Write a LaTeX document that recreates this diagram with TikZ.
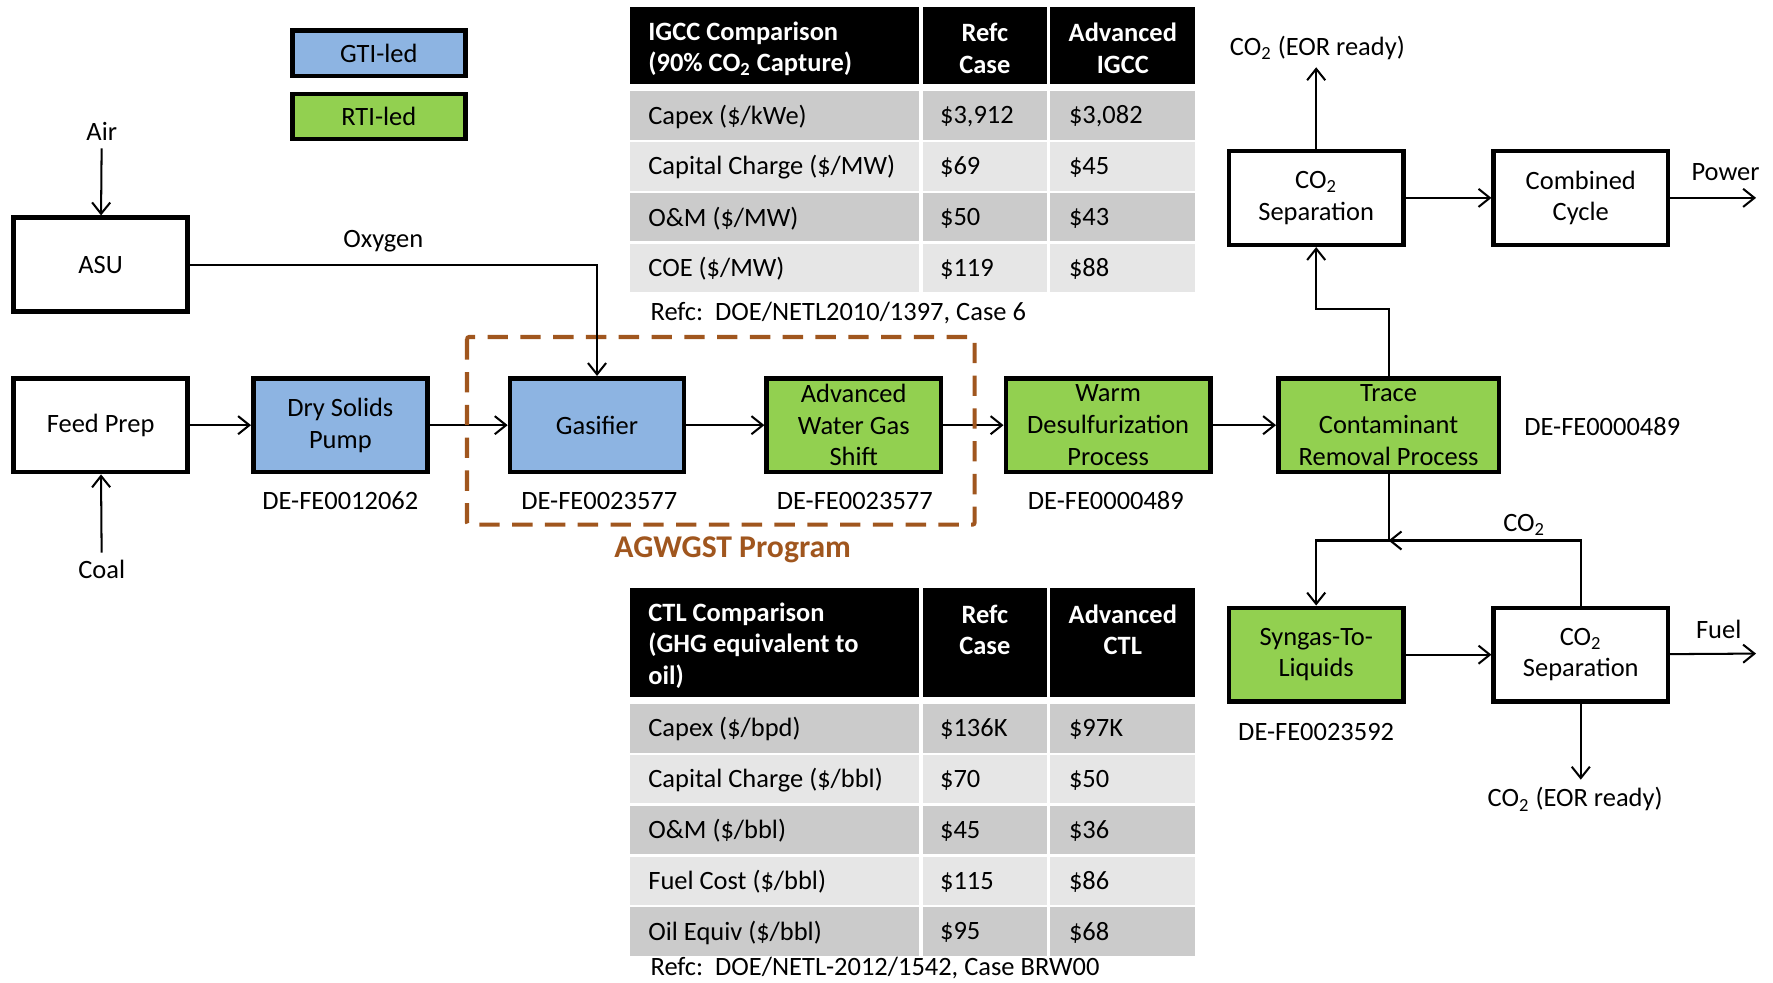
\documentclass[tikz,border=0pt]{standalone}
\usepackage{fontspec}
\setmainfont{Carlito}
\usetikzlibrary{arrows.meta}

\definecolor{gtiblue}{HTML}{8DB4E2}
\definecolor{rtigreen}{HTML}{92D050}
\definecolor{rowdark}{HTML}{CBCBCB}
\definecolor{rowlight}{HTML}{E6E6E6}
\definecolor{agwbrown}{HTML}{A0561E}

\tikzset{
   >={Straight Barb[length=5pt, width=8pt]},
   blk/.style={draw, line width=2pt, minimum height=41.5pt, inner ysep=0pt, inner xsep=1pt, align=center},
   keybox/.style={draw, line width=2pt, minimum height=20pt, minimum width=76.5pt},
   flow/.style={draw, line width=0.9pt, ->},
   cell/.style={anchor=west, inner sep=0pt},
   hdr/.style={text=white, font=\fontsize{11.7}{14}\selectfont\bfseries, align=left, inner sep=0pt},
   agw/.style={draw=agwbrown, line width=1.8pt, dash pattern=on 9pt off 5.5pt, rounded corners=1pt}
}

\begin{document}
\begin{tikzpicture}[x=0.5pt, y=-0.5pt, font=\fontsize{11.7}{14}\selectfont]
   \useasboundingbox (0,0) rectangle (1568,869);
   % legend
   \node[keybox, fill=gtiblue] (gtikey) at (335,47) {GTI-led};
   \node[keybox, fill=rtigreen] (rtikey) at (335,103) {RTI-led};
   % process blocks
   \begin{scope}
      \def \Boxes {
         asu/89/234/white/77/ASU,
         feed/89/376/white/77/Feed Prep,
         dsp/301/376/gtiblue/77/Dry Solids\\Pump,
         gas/528/376/gtiblue/77/Gasifier,
         awgs/755/376/rtigreen/77/Advanced\\Water Gas\\Shift,
         warm/980/376/rtigreen/90.5/Warm\\Desulfurization\\Process,
         trace/1228/376/rtigreen/97.5/Trace\\Contaminant\\Removal Process,
         sept/1164/175/white/77/CO\textsubscript{2}\\Separation,
         cc/1398/175/white/77/Combined\\Cycle,
         stl/1164/579/rtigreen/77/Syngas-To-\\Liquids,
         sepb/1398/579/white/77/CO\textsubscript{2}\\Separation}
      \foreach \u / \x / \y / \c / \w / \n in \Boxes {
         \node[blk, fill=\c, minimum width=\w pt] (\u) at (\x, \y){\n};
      }
      \def \Edges {
         feed/dsp,
         dsp/gas,
         gas/awgs,
         awgs/warm,
         warm/trace,
         sept/cc,
         stl/sepb}
      \foreach \u / \v in \Edges {
         \path[flow] (\u) -- (\v);
      }
   \end{scope}
   % grant numbers
   \node (dsptag) at (301,443) {DE-FE0012062};
   \node (gastag) at (530,443) {DE-FE0023577};
   \node (awgstag) at (756,443) {DE-FE0023577};
   \node (warmtag) at (978,443) {DE-FE0000489};
   \node (tracetag) at (1417,377) {DE-FE0000489};
   \node (stltag) at (1164,647) {DE-FE0023592};
   % AGWGST program frame
   \path[agw] (413,298) rectangle (862,464);
   \node[text=agwbrown, font=\fontsize{14}{16}\selectfont\bfseries] (agwlabel) at (648,486) {AGWGST Program};
   % feeds and products
   \node (air) at (90,116) {Air};
   \node (coal) at (90,504) {Coal};
   \node (oxy) at (339,213) {Oxygen};
   \node (eortop) at (1165,42) {CO\textsubscript{2} (EOR ready)};
   \node (eorbot) at (1393,707) {CO\textsubscript{2} (EOR ready)};
   \node (power) at (1526,152) {Power};
   \node (fuel) at (1520,557) {Fuel};
   \node (co2back) at (1348,464) {CO\textsubscript{2}};
   \coordinate (powerout) at (1553,175);
   \coordinate (fuelout) at (1553,578);
   \coordinate (rise) at (1228,273);
   \coordinate (split) at (1228,478);
   \path[flow] (air) -- (asu);
   \path[flow] (coal) -- (feed);
   \path[flow] (asu.east) -| (gas.north);
   \path[flow] (sept.north) -- (sept.north |- eortop.south);
   \path[flow] (cc) -- (powerout);
   \path[flow] (trace.north) -- (rise) -| (sept.south);
   \path[flow] (trace.south) -- (split) -| (stl.north);
   \path[flow] (sepb.north) |- (split);
   \path[flow] (sepb) -- (fuelout);
   \path[flow] (sepb.south) -- (sepb.south |- eorbot.north);
   % IGCC table
   \fill[black] (557,6) rectangle (813,74);
   \fill[black] (816,6) rectangle (926,74);
   \fill[black] (929,6) rectangle (1057,74);
   \node[hdr, anchor=west] (igcchead) at (573,43) {IGCC Comparison\\(90\% CO\textsubscript{2} Capture)};
   \node[hdr, align=center] (igccrefc) at (871,43) {Refc\\Case};
   \node[hdr, align=center] (igccadv) at (993,43) {Advanced\\IGCC};
   \def \IgccRows {
      102/rowdark/{Capex (\$/kWe)}/{\$3,912}/{\$3,082},
      147/rowlight/{Capital Charge (\$/MW)}/{\$69}/{\$45},
      192/rowdark/{O\&M (\$/MW)}/{\$50}/{\$43},
      237/rowlight/{COE (\$/MW)}/{\$119}/{\$88}}
   \foreach \yc / \fc / \ta / \tb / \tc in \IgccRows {
      \fill[\fc] (557,\yc-21.5) rectangle (813,\yc+21.5);
      \fill[\fc] (816,\yc-21.5) rectangle (926,\yc+21.5);
      \fill[\fc] (929,\yc-21.5) rectangle (1057,\yc+21.5);
      \node[cell] (ia\yc) at (573,\yc+1) {\ta};
      \node[cell] (ib\yc) at (831,\yc+1) {\tb};
      \node[cell] (ic\yc) at (945,\yc+1) {\tc};
   }
   \node[cell] (igccnote) at (575,277) {Refc:\ \ DOE/NETL2010/1397, Case 6};
   % CTL table
   \fill[black] (557,520) rectangle (813,616);
   \fill[black] (816,520) rectangle (926,616);
   \fill[black] (929,520) rectangle (1057,616);
   \node[hdr, anchor=west] (ctlhead) at (573,571) {CTL Comparison\\(GHG equivalent to\\oil)};
   \node[hdr, align=center] (ctlrefc) at (871,557) {Refc\\Case};
   \node[hdr, align=center] (ctladv) at (993,557) {Advanced\\CTL};
   \def \CtlRows {
      644/rowdark/{Capex (\$/bpd)}/{\$136K}/{\$97K},
      689/rowlight/{Capital Charge (\$/bbl)}/{\$70}/{\$50},
      734/rowdark/{O\&M (\$/bbl)}/{\$45}/{\$36},
      779/rowlight/{Fuel Cost (\$/bbl)}/{\$115}/{\$86},
      824/rowdark/{Oil Equiv (\$/bbl)}/{\$95}/{\$68}}
   \foreach \yc / \fc / \ta / \tb / \tc in \CtlRows {
      \fill[\fc] (557,\yc-21.5) rectangle (813,\yc+21.5);
      \fill[\fc] (816,\yc-21.5) rectangle (926,\yc+21.5);
      \fill[\fc] (929,\yc-21.5) rectangle (1057,\yc+21.5);
      \node[cell] (ca\yc) at (573,\yc+1) {\ta};
      \node[cell] (cb\yc) at (831,\yc+1) {\tb};
      \node[cell] (cc\yc) at (945,\yc+1) {\tc};
   }
   \node[cell] (ctlnote) at (575,856) {Refc:\ \ DOE/NETL-2012/1542, Case BRW00};
\end{tikzpicture}
\end{document}
